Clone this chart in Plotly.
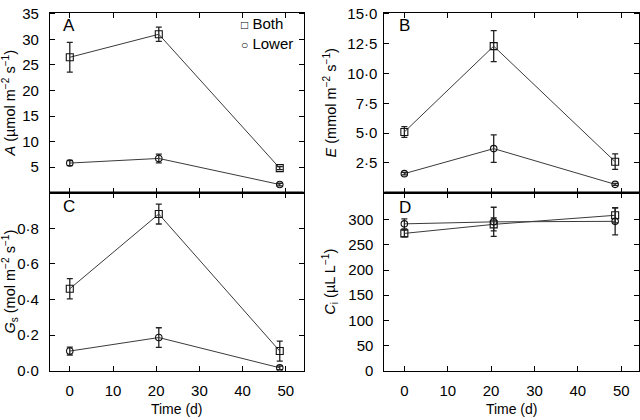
import plotly.graph_objects as go

# ---------------- data ----------------
days = [0, 20.6, 48.6]

A_both = [26.5, 31.0, 4.8]
A_both_err = [2.9, 1.4, 0.3]
A_lower = [5.8, 6.7, 1.6]
A_lower_err = [0.5, 0.85, 0.25]

E_both = [5.1, 12.3, 2.6]
E_both_err = [0.45, 1.3, 0.65]
E_lower = [1.6, 3.7, 0.7]
E_lower_err = [0.1, 1.15, 0.08]

G_both = [0.46, 0.88, 0.11]
G_both_err = [0.057, 0.056, 0.056]
G_lower = [0.11, 0.186, 0.016]
G_lower_err = [0.022, 0.055, 0.01]

C_both = [273, 291, 309]
C_both_err = [7, 13, 15]
C_lower = [292, 296, 297]
C_lower_err = [10, 29, 27]

series_names = ["Both", "Lower"]

x_ticks = [0, 10, 20, 30, 40, 50]
A_ticks = [5, 10, 15, 20, 25, 30, 35]
E_ticks = [2.5, 5.0, 7.5, 10.0, 12.5, 15.0]
E_ticktext = ["2·5", "5·0", "7·5", "10·0", "12·5", "15·0"]
G_ticks = [0.0, 0.2, 0.4, 0.6, 0.8]
G_ticktext = ["0·0", "0·2", "0·4", "0·6", "0·8"]
C_ticks = [0, 50, 100, 150, 200, 250, 300]

# ---------------- layout geometry ----------------
W, H = 640, 420
xl = [49 / W, 303 / W]
xr = [384 / W, 639 / W]
ytop = [1 - 192 / H, 1 - 5 / H]
ybot = [1 - 377 / H, 1 - 192 / H]

FONT = "Liberation Sans, Arial, sans-serif"
LINE_COL = "#3a3a3a"
TICK_SIZE = 15
TITLE_SIZE = 14.5

fig = go.Figure()


def add_pair(xa, ya, both, both_err, lower, lower_err):
    fig.add_trace(go.Scatter(
        x=days, y=both, xaxis=xa, yaxis=ya, mode="lines+markers", name=series_names[0],
        showlegend=False,
        line=dict(color=LINE_COL, width=1),
        marker=dict(symbol="square-open", size=7, color="#111111", line=dict(width=1.1)),
        error_y=dict(type="data", array=both_err, visible=True, color="#222222",
                     thickness=1.3, width=3),
    ))
    fig.add_trace(go.Scatter(
        x=days, y=lower, xaxis=xa, yaxis=ya, mode="lines+markers", name=series_names[1],
        showlegend=False,
        line=dict(color=LINE_COL, width=1),
        marker=dict(symbol="circle-open", size=6.5, color="#111111", line=dict(width=1.1)),
        error_y=dict(type="data", array=lower_err, visible=True, color="#222222",
                     thickness=1.3, width=3),
    ))


add_pair("x", "y", A_both, A_both_err, A_lower, A_lower_err)
add_pair("x2", "y2", E_both, E_both_err, E_lower, E_lower_err)
add_pair("x3", "y3", G_both, G_both_err, G_lower, G_lower_err)
add_pair("x4", "y4", C_both, C_both_err, C_lower, C_lower_err)

axis_common = dict(showline=True, linecolor="black", linewidth=1, mirror="ticks",
                   ticks="inside", ticklen=5, tickcolor="black", tickwidth=1,
                   showgrid=False, zeroline=False, ticklabeloverflow="allow",
                   tickfont=dict(family=FONT, size=TICK_SIZE, color="black"))

xrange = [-4.6, 54.1]

fig.update_layout(
    width=W, height=H,
    margin=dict(l=0, r=0, t=0, b=0),
    paper_bgcolor="white", plot_bgcolor="white",
    font=dict(family=FONT, size=14, color="black"),
    showlegend=False,
    xaxis=dict(domain=xl, anchor="y", range=xrange, tickvals=x_ticks,
               showticklabels=False, **axis_common),
    yaxis=dict(domain=ytop, anchor="x", range=[0, 35.2], tickvals=A_ticks,
               ticklabelstandoff=7,
               title=dict(text="<i>A</i> (µmol m<sup>−2</sup> s<sup>−1</sup>)",
                          font=dict(size=TITLE_SIZE), standoff=6),
               **axis_common),
    xaxis2=dict(domain=xr, anchor="y2", range=xrange, tickvals=x_ticks,
                showticklabels=False, **axis_common),
    yaxis2=dict(domain=ytop, anchor="x2", range=[0, 15.1], tickvals=E_ticks,
                ticktext=E_ticktext, ticklabelstandoff=3,
                title=dict(text="<i>E</i> (mmol m<sup>−2</sup> s<sup>−1</sup>)",
                           font=dict(size=TITLE_SIZE), standoff=7),
                **axis_common),
    xaxis3=dict(domain=xl, anchor="y3", range=xrange, tickvals=x_ticks,
                ticklabelstandoff=6,
                title=dict(text="Time (d)", font=dict(size=14), standoff=6),
                **axis_common),
    yaxis3=dict(domain=ybot, anchor="x3", range=[0, 1.0], tickvals=G_ticks,
                ticktext=G_ticktext, ticklabelstandoff=7,
                title=dict(text="<i>G</i><sub>s</sub> (mol m<sup>−2</sup> s<sup>−1</sup>)",
                           font=dict(size=TITLE_SIZE), standoff=7),
                **axis_common),
    xaxis4=dict(domain=xr, anchor="y4", range=xrange, tickvals=x_ticks,
                ticklabelstandoff=6,
                title=dict(text="Time (d)", font=dict(size=14), standoff=6),
                **axis_common),
    yaxis4=dict(domain=ybot, anchor="x4", range=[0, 354], tickvals=C_ticks,
                ticklabelstandoff=7,
                title=dict(text="<i>C</i><sub>i</sub> (µL L<sup>−1</sup>)",
                           font=dict(size=TITLE_SIZE), standoff=9),
                **axis_common),
)

# legend drawn as text inside panel A
fig.add_annotation(
    text="<span style='font-size:12px'>□</span> " + series_names[0] +
         "<br><span style='font-size:12px'>○</span> " + series_names[1],
    x=238 / W, y=1 - 5 / H, xref="paper", yref="paper", xanchor="left", yanchor="top",
    align="left", showarrow=False, font=dict(family=FONT, size=15, color="black"))

# panel letters
for txt, px, py in [("A", 60, 6), ("B", 397, 6), ("C", 60, 194), ("D", 397, 195)]:
    fig.add_annotation(text=txt, x=px / W, y=1 - py / H, xref="paper", yref="paper",
                       xanchor="left", yanchor="top", showarrow=False,
                       font=dict(family=FONT, size=17, color="black"))

# thick separator between rows
for dom in (xl, xr):
    fig.add_shape(type="line", xref="paper", yref="paper", x0=dom[0], x1=dom[1],
                  y0=ytop[0], y1=ytop[0], line=dict(color="black", width=2.5))

fig.write_html("out.html", config={"displayModeBar": False},
               post_script="document.body.style.margin='0';document.body.style.overflow='hidden';")
